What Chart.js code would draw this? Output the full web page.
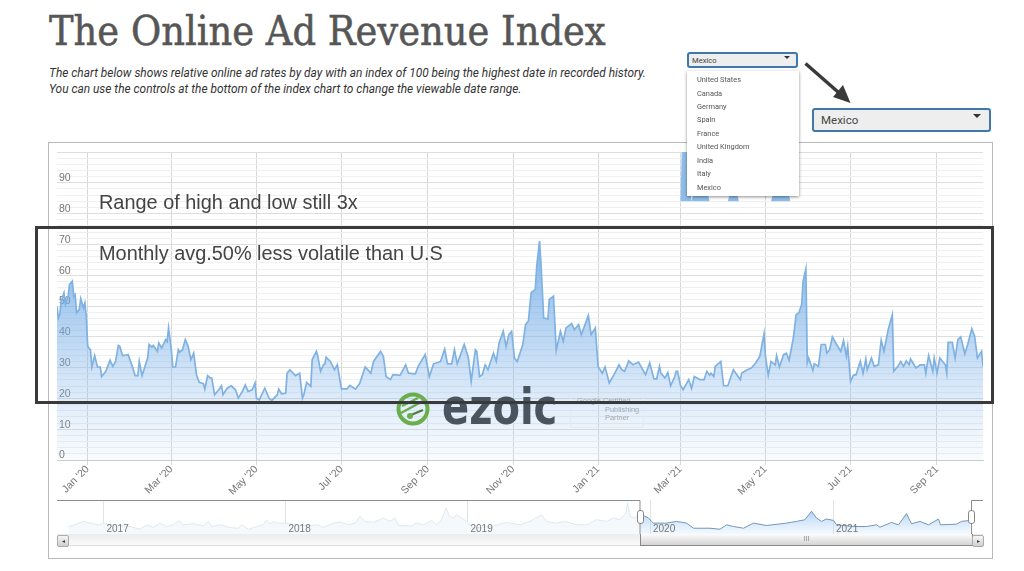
<!DOCTYPE html>
<html>
<head>
<meta charset="utf-8">
<script src="https://cdn.jsdelivr.net/npm/chart.js@4"></script>
<style>
  html, body { margin: 0; padding: 0; background: #fff; }
  #page { position: relative; width: 1024px; height: 571px; overflow: hidden; font-family: "Liberation Sans", Arial, sans-serif; }
  #page > * { position: absolute; }
  #title { left: 49px; top: 7px; font: 41px "DejaVu Serif Condensed", "DejaVu Serif", serif; color: #565656; -webkit-text-stroke: 0.5px #565656; white-space: nowrap; }
  .sub { left: 49px; font: italic 11.9px Roboto, sans-serif; color: #333; white-space: nowrap; }
  #frame { left: 48px; top: 142px; width: 943px; height: 415px; border: 1.5px solid #b9b9b9; }
  #main { left: 0; top: 0; }
  #nav { left: 57px; top: 500px; }
  .note { left: 99px; font-size: 19.9px; color: #444; white-space: nowrap; }
  #box { left: 35px; top: 226px; width: 959px; height: 178px; border: 3px solid #3a3a3a; box-sizing: border-box; }
  .drop { background: #eee; border: 2px solid #3f78ad; border-radius: 3px; box-sizing: border-box; color: #444; font-family: Roboto, sans-serif; }
  .drop i { position: absolute; width: 0; height: 0; border-left: 3px solid transparent; border-right: 3px solid transparent; border-top: 3px solid #333; }
  #dropSmall { left: 687px; top: 52px; width: 111px; height: 16px; font-size: 7.6px; line-height: 13px; padding-left: 3px; }
  #dropSmall i { right: 6px; top: 2px; }
  #dropBig { left: 812px; top: 108px; width: 179px; height: 24px; font-size: 11.5px; line-height: 21px; padding-left: 7px; }
  #dropBig i { right: 8px; top: 4px; border-left-width: 4px; border-right-width: 4px; border-top-width: 4px; }
  #list { left: 687px; top: 71px; width: 112px; height: 125px; background: #fff; box-shadow: 0 1px 3px rgba(0,0,0,.45); font: 7.4px Roboto, sans-serif; color: #555; }
  #list div { position: absolute; left: 10px; white-space: nowrap; }
  #ezoic { left: 442px; top: 378px; font: bold 50px "DejaVu Sans", sans-serif; color: #4a545e; transform: scaleX(.8); transform-origin: left top; }
  #badge { left: 570px; top: 395px; width: 72px; height: 31px; border: 1px solid #e6e9ee; border-radius: 2px; }
  .badgeText { font-size: 7.4px; color: #a3a8ad; white-space: nowrap; }
  #scrollTrack { left: 57px; top: 534px; width: 926px; height: 11px; background: linear-gradient(#ececec, #fafafa); border-bottom: 1px solid #ddd; }
  #scrollThumb { left: 640px; top: 534px; width: 331px; height: 11px; background: linear-gradient(#fcfcfc, #d4d4d4); border: 1px solid #888; border-top: 0; box-sizing: content-box; text-align: center; font-size: 7px; line-height: 10px; color: #888; }
  .btn { top: 535px; width: 10px; height: 10px; background: linear-gradient(#f6f6f6, #cfcfcf); border: 1px solid #aaa; border-radius: 2px; font-size: 6px; line-height: 10px; text-align: center; color: #444; }
  .handle { top: 510px; width: 5px; height: 12px; background: #fff; border: 1px solid #888; border-radius: 3px; }
  #sel { left: 0; top: 0; }
</style>
</head>
<body>
<div id="page">
  <div id="title">The Online Ad Revenue Index</div>
  <div class="sub" style="top:66px">The chart below shows relative online ad rates by day with an index of 100 being the highest date in recorded history.</div>
  <div class="sub" style="top:82px">You can use the controls at the bottom of the index chart to change the viewable date range.</div>
  <div id="frame"></div>
  <canvas id="main" width="1024" height="571"></canvas>
  <canvas id="nav" width="926" height="34"></canvas>
  <svg id="sel" width="1024" height="571">
    <path d="M57 500.5H640V534M971.5 534V500.5H983" fill="none" stroke="#8d8d8d" stroke-width="1"/>
    <g transform="translate(413 409)">
      <circle r="14.5" fill="none" stroke="#6aae4c" stroke-width="4"/>
      <path d="M-12 4L10 -8M-11 -3L5 -11" stroke="#6aae4c" stroke-width="2.5"/>
      <path d="M-2 6L10 1" stroke="#4a7d3a" stroke-width="2"/>
      <circle cx="-3" cy="7" r="3" fill="#6aae4c"/>
    </g>
    <path d="M805.5 63.5L838 92" stroke="#3a3a3a" stroke-width="3.5"/>
    <path d="M850.5 103L833 97L843 85Z" fill="#3a3a3a"/>
  </svg>
  <div id="ezoic">ezoic</div>
  <div id="badge"></div>
  <div class="badgeText" style="left:577px;top:396px">Google Certified</div>
  <div class="badgeText" style="left:605px;top:405px">Publishing</div>
  <div class="badgeText" style="left:605px;top:413px">Partner</div>
  <div class="note" style="top:191px">Range of high and low still 3x</div>
  <div class="note" style="top:242px">Monthly avg.50% less volatile than U.S</div>
  <div id="box"></div>
  <div class="drop" id="dropSmall">Mexico<i></i></div>
  <div id="list"></div>
  <div class="drop" id="dropBig">Mexico<i></i></div>
  <div id="scrollTrack"></div>
  <div id="scrollThumb">III</div>
  <div class="btn" style="left:57px">&#9666;</div>
  <div class="btn" style="left:972px">&#9656;</div>
  <div class="handle" style="left:637px"></div>
  <div class="handle" style="left:968px"></div>
</div>

<script>
// days counted from 1 Jan 2020
const days = [-22,-21,-20,-19,-17,-16,-14,-13,-11,-10,-9,-8,-6,-5,-3,-2,-1,0,2,3,5,7,9,10,13,16,18,20,22,23,25,29,32,34,36,37,39,43,44,46,47,50,51,53,56,57,58,60,61,63,65,66,68,70,72,74,76,78,80,83,84,86,88,89,91,94,96,97,100,103,106,108,111,113,115,118,120,121,123,127,130,132,136,137,139,142,143,145,149,152,154,155,157,160,161,164,165,167,169,170,171,174,177,179,182,186,188,192,195,199,203,205,210,212,214,217,219,224,228,230,235,237,242,245,248,253,256,258,261,263,265,270,273,275,278,279,281,283,285,287,291,293,295,298,300,302,304,306,308,312,314,316,318,321,322,324,325,327,330,331,334,336,339,341,343,347,349,352,354,359,361,364,366,369,371,374,378,381,383,385,388,391,395,400,403,406,408,410,411,414,416,418,421,422,423,425,427,431,433,435,436,439,442,444,446,447,449,450,454,456,459,463,468,469,473,476,479,482,485,486,488,490,493,494,496,499,501,503,506,508,510,512,513,515,516,517,520,521,524,526,529,530,532,534,537,540,542,544,545,547,549,551,554,556,558,559,562,564,567,569,571,574,577,578,581,583,585,587,589,590,594,597,600,601,603,606,607,609,611,615,616,617,620,622,624,626,629,631,634,636,638,641,642];
const values = [49.9,46.1,47.2,51.6,54.3,50.5,53.2,57.0,58.1,53.2,53.7,47.8,48.9,52.4,49.4,51.0,46.7,36.9,35.8,30.2,33.9,30.2,30.2,27.1,28.8,32.4,30.4,32.0,37.2,36.9,33.9,34.2,30.4,27.4,27.4,32.0,27.4,33.1,37.5,36.7,37.2,35.3,38.0,36.4,39.1,38.5,42.9,35.8,30.2,30.2,35.8,35.0,35.8,39.1,36.9,32.6,34.7,27.7,25.2,24.8,23.0,27.4,26.6,26.6,21.2,22.8,24.1,21.2,23.3,24.1,22.8,20.1,22.3,24.4,22.3,22.8,25.0,20.1,19.5,23.3,20.1,19.3,21.2,23.0,21.5,21.7,28.2,29.3,27.4,28.2,20.1,21.2,25.2,23.9,32.6,35.3,33.7,28.8,30.9,31.2,33.4,32.0,29.3,30.9,23.1,23.1,24.2,23.0,24.8,30.2,28.2,32.0,35.3,33.7,27.1,26.1,27.7,27.5,30.9,28.2,28.0,30.4,34.2,27.1,31.2,32.0,36.0,31.2,31.2,35.8,31.2,37.5,33.1,25.5,35.8,35.3,27.1,27.7,30.9,29.3,34.7,32.0,38.0,41.8,36.9,40.7,41.8,33.1,32.0,37.5,44.0,45.1,54.3,55.4,63.0,71.1,64.1,46.1,45.8,52.1,53.2,35.6,41.8,38.5,42.9,44.3,42.3,44.0,40.7,46.9,40.7,42.9,30.4,28.2,30.2,25.0,28.2,30.9,29.3,28.8,32.2,30.9,31.8,27.7,31.5,26.4,26.3,30.4,28.2,26.6,28.4,24.1,27.1,28.8,28.8,24.4,22.8,26.1,23.3,27.1,26.9,26.1,26.1,28.8,27.5,28.2,27.1,30.4,32.0,24.1,24.1,29.3,26.1,28.2,29.3,29.9,31.5,33.7,41.0,33.7,27.5,32.0,30.9,33.9,30.2,34.2,34.7,32.4,39.6,47.2,47.8,50.5,58.1,62.1,31.5,33.1,29.1,31.3,30.4,37.5,37.5,34.7,35.8,40.0,37.5,35.3,38.8,33.7,36.9,25.5,27.5,27.7,32.0,28.2,32.8,29.3,33.1,30.4,30.9,38.9,35.3,42.3,47.2,28.8,30.4,32.0,30.4,32.2,30.9,32.8,29.9,30.9,30.9,28.2,33.9,28.8,33.1,28.2,33.1,30.9,28.2,38.2,38.2,33.1,39.1,40.0,34.5,37.5,42.6,40.2,33.1,35.3,30.4];

// bit of the United States series still showing around the open dropdown
const peekDays = [425,426,430,433,434,445,446,459,460,466,467,490,491,503,504];
const peekValues = [84,100,100,84,85.8,85.8,84,84,85.8,85.8,84,84,85.8,85.8,84];

const tickDays = [0,60,121,182,244,305,366,425,486,547,609];
const tickLabels = ["Jan '20","Mar '20","May '20","Jul '20","Sep '20","Nov '20","Jan '21","Mar '21","May '21","Jul '21","Sep '21"];

// range navigator, whole history
const navPastDays = [-1163,-1150,-1133,-1120,-1103,-1093,-1077,-1040,-1020,-1007,-993,-980,-967,-953,-943,-933,-913,-893,-883,-877,-860,-840,-823,-817,-803,-787,-773,-767,-760,-753,-743,-730,-713,-680,-667,-653,-633,-620,-603,-590,-580,-570,-553,-533,-520,-510,-503,-477,-467,-453,-437,-427,-417,-408,-401,-393,-387,-377,-367,-353,-313,-287,-260,-240,-217,-207,-187,-170,-147,-127,-107,-87,-73,-60,-48,-45,-40,-30,-20];
const navPastValues = [22,27,37,32,27,32,27,22,14,27,20,32,22,27,40,27,30,24,37,22,27,19,17,27,14,22,27,40,30,37,32,32,27,24,27,20,32,35,27,32,52,37,34,47,37,47,24,24,32,27,40,27,42,77,52,47,57,47,37,17,24,34,27,37,57,37,32,37,27,27,42,37,47,42,62,92,52,47,62];
const navDays = [-20,-17,-3,3,7,33,53,73,87,120,140,153,167,187,207,233,273,293,310,323,333,343,353,367,373,407,433,453,460,483,497,513,523,540,557,577,581,613,623,640];
const navValues = [62,57,47,37,32,32,37,32,17,17,14,27,22,17,32,25,32,37,42,67,47,37,44,40,27,22,22,27,20,34,27,60,30,37,27,44,27,29,37,40];

const yearDays = [-1093,-729,-365,0,366];
const yearLabels = ['2017','2018','2019','2020','2021'];

const dropItems = ['United States','Canada','Germany','Spain','France','United Kingdom','India','Italy','Mexico'];
const dropTops = [4,18,31,44,58,71,85,98,112];

const list = document.getElementById('list');
dropItems.forEach(function(name, i) {
    const row = document.createElement('div');
    row.textContent = name;
    row.style.top = dropTops[i] + 'px';
    list.appendChild(row);
});

function toPoints(xs, ys) {
    return xs.map(function(x, i) { return { x: x, y: ys[i] }; });
}

function areaFill(ctx) {
    const area = ctx.chart.chartArea;
    if (!area) return 'transparent';
    const g = ctx.chart.ctx.createLinearGradient(0, area.top + 85, 0, area.bottom);
    g.addColorStop(0, 'rgba(95,160,228,0.82)');
    g.addColorStop(0.5, 'rgba(120,175,232,0.45)');
    g.addColorStop(1, 'rgba(150,195,240,0.06)');
    return g;
}

new Chart(document.getElementById('main'), {
    type: 'line',
    data: {
        datasets: [
            {
                data: toPoints(days, values),
                borderColor: '#7fb2e2',
                borderWidth: 1.7,
                backgroundColor: areaFill,
                fill: 'origin',
                pointRadius: 0,
                tension: 0
            },
            {
                data: toPoints(peekDays, peekValues),
                borderWidth: 0,
                backgroundColor: '#8fbce8',
                fill: { value: 84 },
                pointRadius: 0,
                tension: 0
            }
        ]
    },
    options: {
        responsive: false,
        animation: false,
        layout: { padding: { left: 57, right: 41, top: 152, bottom: 71 } },
        plugins: { legend: { display: false }, tooltip: { enabled: false } },
        scales: {
            x: {
                type: 'linear',
                min: -22,
                max: 642,
                afterBuildTicks: function(scale) {
                    scale.ticks = tickDays.map(function(d) { return { value: d }; });
                },
                afterFit: function(scale) { scale.height = 40; },
                ticks: {
                    autoSkip: false,
                    minRotation: 45,
                    maxRotation: 45,
                    padding: -2,
                    color: '#777',
                    font: { family: 'Liberation Sans', size: 10.5 },
                    callback: function(v) { return tickLabels[tickDays.indexOf(v)]; }
                },
                grid: { color: '#d8d8d8', tickLength: 5 },
                border: { color: '#cccccc' }
            },
            y: {
                min: 0,
                max: 100,
                afterFit: function(scale) { scale.width = 0; },
                ticks: {
                    stepSize: 2,
                    autoSkip: false,
                    maxTicksLimit: 60,
                    mirror: true,
                    padding: 2,
                    labelOffset: -4.5,
                    color: '#777',
                    font: { family: 'Liberation Sans', size: 10.5 },
                    callback: function(v) { return v % 10 === 0 && v < 100 ? String(v) : ''; }
                },
                grid: {
                    drawTicks: false,
                    color: function(ctx) { return ctx.tick.value % 10 === 0 ? '#dedede' : '#f0f0f0'; }
                },
                border: { display: false }
            }
        }
    }
});

new Chart(document.getElementById('nav'), {
    type: 'line',
    data: {
        datasets: [
            {
                data: toPoints(navPastDays, navPastValues),
                borderColor: '#dfe8f0',
                borderWidth: 1,
                backgroundColor: '#f6f9fc',
                fill: 'origin',
                pointRadius: 0,
                tension: 0
            },
            {
                data: toPoints(navDays, navValues),
                borderColor: '#7696b6',
                borderWidth: 1,
                backgroundColor: function(ctx) {
                    const area = ctx.chart.chartArea;
                    if (!area) return 'transparent';
                    const g = ctx.chart.ctx.createLinearGradient(0, area.top + 5, 0, area.bottom);
                    g.addColorStop(0, 'rgba(110,170,235,0.7)');
                    g.addColorStop(1, 'rgba(190,220,250,0.2)');
                    return g;
                },
                fill: 'origin',
                pointRadius: 0,
                tension: 0
            }
        ]
    },
    options: {
        responsive: false,
        animation: false,
        layout: { padding: 0 },
        plugins: { legend: { display: false }, tooltip: { enabled: false } },
        scales: {
            x: {
                type: 'linear',
                min: -1186,
                max: 666,
                afterBuildTicks: function(scale) {
                    scale.ticks = yearDays.map(function(d) { return { value: d }; });
                },
                afterFit: function(scale) { scale.height = 0; },
                ticks: {
                    z: 1,
                    autoSkip: false,
                    maxRotation: 0,
                    align: 'start',
                    mirror: true,
                    padding: -1,
                    labelOffset: 3,
                    color: '#777',
                    font: { family: 'Liberation Sans', size: 10 },
                    callback: function(v) { return yearLabels[yearDays.indexOf(v)]; }
                },
                grid: { color: '#e3e3e3', drawTicks: false },
                border: { color: '#d0d0d0' }
            },
            y: { display: false, min: 0, max: 100 }
        }
    }
});
</script>
</body>
</html>
